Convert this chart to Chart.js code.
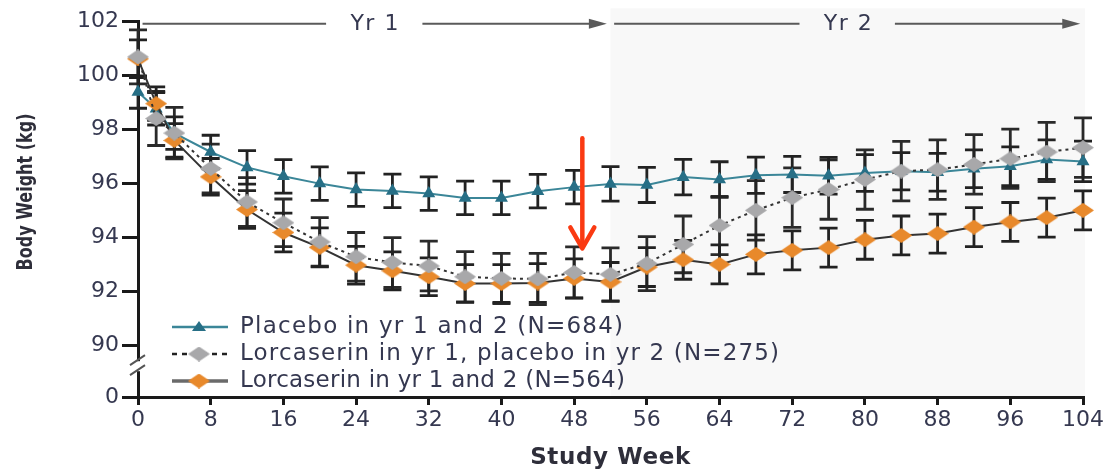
<!DOCTYPE html>
<html><head><meta charset="utf-8">
<script src="https://cdn.jsdelivr.net/npm/chart.js@4"></script>
<style>html,body{margin:0;padding:0;background:#fff}#wrap{width:1115px;height:470px;position:relative}</style>
</head><body><div id="wrap"><canvas id="c" width="1115" height="470"></canvas></div>
<script>
// ---- data ----
const WEEKS = [0,2,4,8,12,16,20,24,28,32,36,40,44,48,52,56,60,64,68,72,76,80,84,88,92,96,100,104];
const PLACEBO = [99.37,98.75,97.85,97.15,96.58,96.25,95.98,95.76,95.71,95.61,95.45,95.45,95.70,95.85,95.97,95.93,96.22,96.13,96.29,96.32,96.27,96.37,96.44,96.40,96.53,96.62,96.87,96.80];
const PLACEBO_ERR = [0.60,0.60,0.60,0.62,0.62,0.62,0.62,0.62,0.62,0.62,0.62,0.62,0.62,0.62,0.64,0.65,0.66,0.66,0.67,0.67,0.68,0.68,0.69,0.70,0.70,0.72,0.73,0.75];
const LORC_PLAC = [100.67,98.39,97.85,96.54,95.30,94.53,93.82,93.27,93.06,92.93,92.53,92.47,92.45,92.69,92.62,93.02,93.73,94.43,94.99,95.46,95.76,96.13,96.44,96.50,96.69,96.90,97.15,97.31];
const LORC_PLAC_ERR = [1.00,1.00,0.95,0.90,0.90,0.88,0.90,0.90,0.92,0.92,0.93,0.93,0.95,0.95,0.98,1.00,1.05,1.08,1.10,1.10,1.10,1.10,1.10,1.10,1.10,1.10,1.10,1.10];
const LORC_LORC = [100.60,98.94,97.58,96.23,95.02,94.17,93.62,92.96,92.75,92.53,92.28,92.28,92.30,92.47,92.34,92.89,93.16,92.99,93.36,93.51,93.61,93.90,94.06,94.13,94.37,94.56,94.72,94.99];
const LORC_LORC_ERR = [0.70,0.62,0.62,0.68,0.70,0.72,0.72,0.70,0.70,0.70,0.70,0.70,0.72,0.72,0.72,0.72,0.72,0.72,0.72,0.72,0.72,0.72,0.72,0.72,0.72,0.72,0.72,0.72];
const SERIES_LABELS = ['Placebo in yr 1 and 2 (N=684)','Lorcaserin in yr 1, placebo in yr 2 (N=275)','Lorcaserin in yr 1 and 2 (N=564)'];
const X_TICKS = [0,8,16,24,32,40,48,56,64,72,80,88,96,104];
const Y_TICKS = [90,92,94,96,98,100,102];
const Y_BREAK_LABEL = '0';
const YEAR_LABELS = ['Yr 1','Yr 2'];
const X_TITLE = 'Study Week';
const Y_TITLE = 'Body Weight (kg)';
const YEAR2_START = 52;

// ---- styling helpers ----
const Y_MIN = 88.08;
const TXT = '#353850';
function diamond(w,h,fill){const c=document.createElement('canvas');c.width=w;c.height=h;const g=c.getContext('2d');g.fillStyle=fill;g.beginPath();g.moveTo(w/2,0);g.lineTo(w,h/2);g.lineTo(w/2,h);g.lineTo(0,h/2);g.closePath();g.fill();return c;}
const grayDia = diamond(22,15,'#a8a8aa');
const orangeDia = diamond(22,15,'#e8892b');
const TEAL_LINE = '#3b8698', TEAL_PT = '#276f86';

const pts = arr => WEEKS.map((w,i)=>({x:w,y:arr[i]}));

function fitText(ctx, s, x, y, target){
  ctx.letterSpacing = '0px';
  const w = ctx.measureText(s).width;
  const extra = (target - w) / Math.max(1, s.length - 1);
  ctx.letterSpacing = extra.toFixed(2) + 'px';
  ctx.fillText(s, x, y);
  ctx.letterSpacing = '0px';
}

const shade = {
  id:'shade',
  beforeDraw(chart){
    const {ctx, chartArea:a, scales:{x,y}} = chart;
    ctx.save();
    ctx.fillStyle = '#f8f8f8';
    const x0 = x.getPixelForValue(YEAR2_START);
    const top = y.getPixelForValue(102.47);
    ctx.fillRect(x0, top, a.right + 2 - x0, a.bottom - top);
    ctx.restore();
  }
};

const errorBars = {
  id:'errorBars',
  beforeDatasetsDraw(chart){
    const {ctx, scales:{x,y}} = chart;
    ctx.save();
    ctx.lineWidth = 2.8;
    chart.data.datasets.forEach(ds=>{
      if(!ds.errors) return;
      ctx.strokeStyle = ds.errorColor;
      ds.data.forEach((p,j)=>{
        const px = x.getPixelForValue(p.x);
        const t = y.getPixelForValue(p.y + ds.errors[j]);
        const b = y.getPixelForValue(p.y - ds.errors[j]);
        ctx.beginPath();
        ctx.moveTo(px,t);ctx.lineTo(px,b);
        ctx.moveTo(px-9,t);ctx.lineTo(px+9,t);
        ctx.moveTo(px-9,b);ctx.lineTo(px+9,b);
        ctx.stroke();
      });
    });
    ctx.restore();
  }
};

function arrowHead(ctx,x,y){
  ctx.beginPath();ctx.moveTo(x,y);ctx.lineTo(x-18,y-5);ctx.lineTo(x-18,y+5);ctx.closePath();ctx.fill();
}

const decor = {
  id:'decor',
  afterDraw(chart){
    const {ctx, chartArea:a, scales:{x,y}} = chart;
    ctx.save();
    // year arrows
    const ya = y.getPixelForValue(101.9);
    ctx.strokeStyle = '#5a5a5a'; ctx.fillStyle = '#5a5a5a'; ctx.lineWidth = 2;
    const seg = (w0,w1)=>{ctx.beginPath();ctx.moveTo(x.getPixelForValue(w0),ya);ctx.lineTo(x.getPixelForValue(w1),ya);ctx.stroke();};
    seg(0.5,20.7); seg(31.3,50.5); arrowHead(ctx,x.getPixelForValue(51.6),ya);
    seg(52.4,72.8); seg(83.3,102.6); arrowHead(ctx,x.getPixelForValue(103.7),ya);
    ctx.fillStyle = TXT; ctx.font = '22px "DejaVu Sans"'; ctx.textAlign='center'; ctx.textBaseline='middle';
    fitText(ctx, YEAR_LABELS[0], x.getPixelForValue(26.1), ya+1, 48);
    fitText(ctx, YEAR_LABELS[1], x.getPixelForValue(78.2), ya+1, 48);

    // axis break
    const yb = y.getPixelForValue(89.22);
    ctx.fillStyle = '#fff';
    ctx.fillRect(a.left-4, yb-5, 8, 10);
    ctx.strokeStyle = '#555'; ctx.lineWidth = 2;
    ctx.beginPath();
    ctx.moveTo(a.left-8, yb-1); ctx.lineTo(a.left+7, yb-11);
    ctx.moveTo(a.left-8, yb+9); ctx.lineTo(a.left+7, yb-1);
    ctx.stroke();

    // legend
    const lx0 = 172, lx1 = 228, mx = 199, tx = 240;
    const rows = [327, 354, 381];
    ctx.font = '23px "DejaVu Sans"'; ctx.textAlign='left'; ctx.textBaseline='middle';
    ctx.strokeStyle = TEAL_LINE; ctx.lineWidth = 2.5; ctx.setLineDash([]);
    ctx.beginPath(); ctx.moveTo(lx0,rows[0]); ctx.lineTo(lx1,rows[0]); ctx.stroke();
    ctx.fillStyle = TEAL_PT; ctx.beginPath(); ctx.moveTo(mx,rows[0]-6); ctx.lineTo(mx+7,rows[0]+4); ctx.lineTo(mx-7,rows[0]+4); ctx.closePath(); ctx.fill();
    ctx.strokeStyle = '#222'; ctx.lineWidth = 2.5; ctx.setLineDash([5,5]);
    ctx.beginPath(); ctx.moveTo(lx0,rows[1]); ctx.lineTo(lx1,rows[1]); ctx.stroke(); ctx.setLineDash([]);
    ctx.drawImage(grayDia, mx-11, rows[1]-7.5);
    ctx.strokeStyle = '#6a6a6a'; ctx.lineWidth = 3.5;
    ctx.beginPath(); ctx.moveTo(lx0,rows[2]); ctx.lineTo(lx1,rows[2]); ctx.stroke();
    ctx.drawImage(orangeDia, mx-11, rows[2]-7.5);
    ctx.fillStyle = TXT;
    const targets = [383, 539, 385];
    SERIES_LABELS.forEach((s,i)=>fitText(ctx, s, tx, rows[i], targets[i]));

    // axis titles
    ctx.fillStyle = '#2e2e3a';
    ctx.font = 'bold 23px "DejaVu Sans"'; ctx.textAlign='center';
    fitText(ctx, X_TITLE, (a.left+a.right)/2, 458, 160);
    ctx.save();
    ctx.translate(27, 192); ctx.rotate(-Math.PI/2);
    ctx.font = 'bold 21px "DejaVu Sans"';
    const w = ctx.measureText(Y_TITLE).width;
    ctx.scale(157/w, 1);
    ctx.fillText(Y_TITLE, 0, 0);
    ctx.restore();

    // red arrow
    const rx = x.getPixelForValue(48.9);
    const rt = y.getPixelForValue(97.66), rb = y.getPixelForValue(93.58);
    ctx.strokeStyle = '#fa3a12'; ctx.lineWidth = 4.5; ctx.lineCap='round'; ctx.lineJoin='round';
    ctx.beginPath(); ctx.moveTo(rx, rt); ctx.lineTo(rx, rb-2); ctx.stroke();
    ctx.beginPath(); ctx.moveTo(rx-12, rb-21); ctx.lineTo(rx, rb); ctx.lineTo(rx+12, rb-21); ctx.stroke();
    ctx.restore();
  }
};

const tickFont = {family:'DejaVu Sans', size:22};
new Chart(document.getElementById('c').getContext('2d'), {
  type:'line',
  data:{datasets:[
    {label:SERIES_LABELS[1], data:pts(LORC_PLAC), errors:LORC_PLAC_ERR, errorColor:'#2a2a2a',
     borderColor:'#333', borderWidth:2, borderDash:[3,4], pointStyle:grayDia, pointRadius:8, order:0, clip:false},
    {label:SERIES_LABELS[2], data:pts(LORC_LORC), errors:LORC_LORC_ERR, errorColor:'#222',
     borderColor:'#333', borderWidth:2, pointStyle:orangeDia, pointRadius:8, order:1, clip:false},
    {label:SERIES_LABELS[0], data:pts(PLACEBO), errors:PLACEBO_ERR, errorColor:'#222',
     borderColor:TEAL_LINE, borderWidth:2, pointStyle:'triangle', pointRadius:5.5,
     pointBackgroundColor:TEAL_PT, pointBorderColor:TEAL_PT, order:2, clip:false}
  ]},
  options:{
    responsive:false, animation:false, devicePixelRatio:1,
    layout:{padding:{top:21,right:32,left:0,bottom:0}},
    plugins:{legend:{display:false}, tooltip:{enabled:false}},
    elements:{line:{tension:0}},
    scales:{
      x:{type:'linear', min:0, max:104,
        afterFit(s){s.height=73;},
        afterBuildTicks(s){s.ticks = X_TICKS.map(v=>({value:v}));},
        grid:{drawOnChartArea:false, tickLength:8, lineWidth:3, color:'#1a1a1a'},
        border:{color:'#1a1a1a', width:3},
        ticks:{font:tickFont, color:TXT, padding:2, maxRotation:0, autoSkip:false}},
      y:{type:'linear', min:Y_MIN, max:102,
        afterFit(s){s.width=138;},
        afterBuildTicks(s){s.ticks = [Y_MIN, ...Y_TICKS].map(v=>({value:v}));},
        grid:{drawOnChartArea:false, tickLength:16, lineWidth:3, color:'#1a1a1a'},
        border:{color:'#1a1a1a', width:3},
        ticks:{font:tickFont, color:TXT, padding:3, autoSkip:false,
          callback:(v)=> v < Y_TICKS[0] ? Y_BREAK_LABEL : String(v)}}
    }
  },
  plugins:[shade, errorBars, decor]
});
</script></body></html>
